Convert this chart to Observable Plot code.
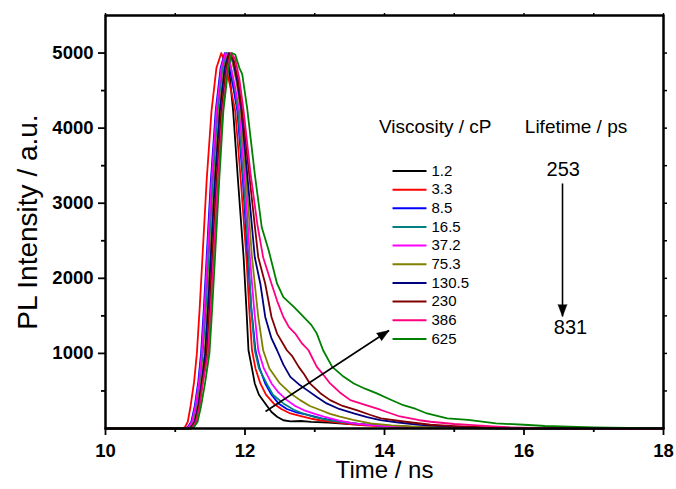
<!DOCTYPE html>
<html><head><meta charset="utf-8">
<script src="https://cdn.jsdelivr.net/npm/d3@7"></script>
<script src="https://cdn.jsdelivr.net/npm/@observablehq/plot@0.6"></script>
<style>body{margin:0;background:#fff} #chart svg{display:block}</style>
</head><body><div id="chart"></div>
<script>
// ---- data (time in ns, PL intensity in a.u.) ----
const viscosity = ["1.2","3.3","8.5","16.5","37.2","75.3","130.5","230","386","625"];
const colors = ["#000000","#ff0000","#0000ff","#008080","#ff00ff","#808000","#000080","#800000","#ff0080","#008000"];
const lifetimeLabels = ["253","831"];
const xMajor = [10,12,14,16,18];
const xMinor = [11,13,15,17];
const yMajor = [1000,2000,3000,4000,5000];
const yMinor = [500,1500,2500,3500,4500];
const xDomain = [10, 18];
const yDomain = [0, 5500];

const s1_2 = [[10,0],[11.16,0],[11.2,20],[11.25,90],[11.3,300],[11.35,620],[11.39,1000],[11.43,1600],[11.47,2281],[11.53,3300],[11.6,4230],[11.67,4800],[11.74,5000],[11.78,4700],[11.83,4230],[11.9,3300],[11.98,2281],[12.02,1600],[12.05,1042],[12.1,800],[12.14,600],[12.2,450],[12.29,334],[12.38,220],[12.46,157],[12.55,110],[12.65,95],[12.8,100],[12.95,88],[13.2,80],[13.5,60],[13.8,45],[14.1,32],[14.5,18],[15,8],[16,0],[18,0]];
const s3_3 = [[10,0],[11.1,0],[11.14,20],[11.18,90],[11.22,300],[11.27,620],[11.31,1000],[11.35,1600],[11.39,2281],[11.45,3300],[11.52,4230],[11.59,4800],[11.66,5000],[11.72,4850],[11.79,4550],[11.86,4230],[11.94,3300],[12.02,2281],[12.06,1600],[12.1,1042],[12.15,800],[12.22,600],[12.3,450],[12.41,334],[12.52,260],[12.65,200],[12.8,165],[12.95,130],[13.08,110],[13.25,90],[13.5,60],[13.75,40],[14.0,28],[14.5,12],[15,5],[16,0],[18,0]];
const s8_5 = [[10,0],[11.14,0],[11.18,20],[11.23,90],[11.28,300],[11.33,620],[11.37,1000],[11.41,1600],[11.45,2281],[11.51,3300],[11.58,4230],[11.65,4800],[11.71,5000],[11.77,4850],[11.83,4550],[11.89,4230],[11.97,3300],[12.04,2281],[12.09,1600],[12.15,1042],[12.21,800],[12.29,600],[12.38,450],[12.48,334],[12.6,260],[12.75,210],[12.9,180],[13.1,135],[13.35,95],[13.6,65],[13.9,42],[14.2,27],[14.6,14],[15.2,5],[16,0],[18,0]];
const s16_5 = [[10,0],[11.16,0],[11.2,20],[11.25,90],[11.3,300],[11.35,620],[11.39,1000],[11.44,1600],[11.48,2281],[11.54,3300],[11.61,4230],[11.68,4800],[11.74,5000],[11.79,4850],[11.85,4550],[11.9,4230],[11.98,3300],[12.05,2281],[12.09,1600],[12.14,1042],[12.2,800],[12.31,600],[12.4,450],[12.55,334],[12.7,250],[12.83,200],[13.0,150],[13.2,110],[13.45,80],[13.7,55],[14.0,35],[14.4,20],[15,7],[16,0],[18,0]];
const s37_2 = [[10,0],[11.15,0],[11.19,20],[11.24,90],[11.29,300],[11.34,620],[11.38,1000],[11.42,1600],[11.46,2281],[11.52,3300],[11.59,4230],[11.66,4800],[11.72,5000],[11.78,4880],[11.85,4580],[11.92,4230],[12.0,3300],[12.07,2281],[12.13,1600],[12.19,1042],[12.27,800],[12.38,600],[12.48,480],[12.6,378],[12.72,300],[12.84,246],[13.0,195],[13.13,157],[13.35,105],[13.56,68],[13.8,45],[14.1,30],[14.5,16],[15,7],[16,0],[18,0]];
const s75_3 = [[10,0],[11.18,0],[11.22,20],[11.27,90],[11.32,300],[11.37,620],[11.42,1000],[11.46,1600],[11.5,2281],[11.56,3300],[11.63,4230],[11.7,4800],[11.76,5000],[11.82,4880],[11.88,4600],[11.94,4230],[12.02,3300],[12.1,2281],[12.19,1485],[12.26,1042],[12.35,800],[12.5,600],[12.65,470],[12.79,378],[12.93,300],[13.08,246],[13.22,195],[13.36,157],[13.55,115],[13.8,68],[14.1,42],[14.5,22],[15,10],[15.6,3],[16.2,0],[18,0]];
const s130_5 = [[10,0],[11.19,0],[11.23,20],[11.28,90],[11.33,300],[11.38,620],[11.43,1000],[11.47,1600],[11.51,2281],[11.57,3300],[11.64,4230],[11.71,4800],[11.77,5000],[11.83,4900],[11.89,4620],[11.95,4230],[12.04,3300],[12.14,2281],[12.22,1928],[12.29,1485],[12.38,1200],[12.46,1042],[12.55,850],[12.65,688],[12.77,590],[12.89,511],[13.03,420],[13.17,334],[13.35,260],[13.56,200],[13.75,150],[13.94,111],[14.2,80],[14.5,48],[14.9,28],[15.4,12],[16,4],[16.6,0],[18,0]];
const s230 = [[10,0],[11.2,0],[11.24,20],[11.29,90],[11.34,300],[11.39,620],[11.45,1000],[11.49,1600],[11.53,2281],[11.59,3300],[11.66,4230],[11.73,4800],[11.78,5000],[11.84,4900],[11.9,4650],[11.96,4230],[12.07,3300],[12.19,2281],[12.29,1928],[12.38,1485],[12.46,1264],[12.6,1042],[12.68,960],[12.77,821],[12.85,720],[12.93,600],[13.08,470],[13.22,378],[13.4,300],[13.6,246],[13.8,180],[13.95,135],[14.3,90],[14.66,50],[15.0,32],[15.5,15],[16.2,5],[17,0],[18,0]];
const s386 = [[10,0],[11.21,0],[11.25,20],[11.3,90],[11.35,300],[11.4,620],[11.47,1000],[11.51,1600],[11.55,2281],[11.61,3300],[11.68,4230],[11.75,4800],[11.8,5000],[11.86,4920],[11.92,4650],[11.98,4230],[12.08,3390],[12.18,2700],[12.26,2281],[12.38,1928],[12.46,1700],[12.55,1485],[12.63,1350],[12.72,1264],[12.82,1130],[12.91,1042],[13.03,821],[13.12,720],[13.22,600],[13.36,480],[13.51,378],[13.7,320],[13.94,250],[14.22,160],[14.5,110],[14.66,90],[15.0,60],[15.27,46],[15.8,16],[16.5,3],[17.2,0],[18,0]];
const s625 = [[10,0],[11.23,0],[11.27,20],[11.32,90],[11.37,300],[11.43,620],[11.49,1000],[11.53,1600],[11.57,2281],[11.63,3300],[11.69,4230],[11.76,4800],[11.81,5000],[11.86,4980],[11.92,4800],[11.96,4720],[12.03,4274],[12.14,3390],[12.24,2680],[12.34,2370],[12.46,1928],[12.55,1750],[12.7,1620],[12.84,1485],[12.95,1380],[13.03,1264],[13.12,1042],[13.25,821],[13.4,700],[13.56,600],[13.72,530],[13.89,467],[14.05,400],[14.27,310],[14.45,260],[14.61,200],[14.9,135],[15.2,114],[15.6,68],[16.0,50],[16.3,33],[17.0,16],[17.5,8],[18,3]];
const seriesPoints = [s1_2,s3_3,s8_5,s16_5,s37_2,s75_3,s130_5,s230,s386,s625];

// ---- annotation layout (data units) ----
const legX1 = 14.115, legX2 = 14.602, legTextX = 14.674, legY0 = 3429, legDy = 248.4;
const headerY = 4022, viscHeaderX = 14.727, lifeHeaderX = 16.746;
const lifeX = [16.562, 16.667], lifeY = [3449, 1345];
const vArrow = {x: 16.552, y1: 3263, y2: 1492};
const dArrow = {x1: 12.294, y1: 226, x2: 14.065, y2: 1305};

const rows = seriesPoints.flatMap((pts, k) => pts.map(([t, I]) => ({t, I, name: viscosity[k]})));
const legendRows = viscosity.map((v, i) => ({v, y: legY0 - i * legDy}));
const arrowRows = [
  {x1: vArrow.x, y1: vArrow.y1, x2: vArrow.x, y2: vArrow.y2, rot: 180},
  {x1: dArrow.x1, y1: dArrow.y1, x2: dArrow.x2, y2: dArrow.y2, rot: 56.7}
];

const chart = Plot.plot({
  width: 676, height: 489,
  marginLeft: 105, marginRight: 13, marginTop: 15, marginBottom: 61,
  style: {fontFamily: "'Liberation Sans', Arial, sans-serif", background: "white", color: "black", overflow: "visible"},
  x: {domain: xDomain},
  y: {domain: yDomain},
  color: {type: "ordinal", domain: viscosity, range: colors},
  marks: [
    // annotations and texts first
    Plot.text(["Time / ns"], {frameAnchor: "bottom", dy: 42, lineAnchor: "middle", textAnchor: "middle", text: d => d, fontSize: 24}),
    Plot.text(["PL Intensity / a.u."], {frameAnchor: "left", dx: -77, rotate: -90, lineAnchor: "middle", textAnchor: "middle", text: d => d, fontSize: 28}),
    Plot.text(["Viscosity / cP"], {x: viscHeaderX, y: headerY, text: d => d, fontSize: 19}),
    Plot.text(["Lifetime / ps"], {x: lifeHeaderX, y: headerY, text: d => d, fontSize: 19}),
    Plot.link(legendRows, {x1: legX1, x2: legX2, y1: "y", y2: "y", stroke: "v", strokeWidth: 2}),
    Plot.text(legendRows, {x: legTextX, y: "y", text: "v", textAnchor: "start", fontSize: 15}),
    Plot.text(lifetimeLabels, {x: (d, i) => lifeX[i], y: (d, i) => lifeY[i], text: d => d, fontSize: 20}),
    // decay curves
    Plot.line(rows, {x: "t", y: "I", z: "name", stroke: "name", strokeWidth: 1.8}),
    // arrows
    Plot.link(arrowRows, {x1: "x1", y1: "y1", x2: "x2", y2: "y2", stroke: "black", strokeWidth: 1.6}),
    Plot.vector(arrowRows, {x: "x2", y: "y2", rotate: "rot", length: 12, r: 4.5, shape: "spike", anchor: "end", fill: "black", stroke: "black", strokeWidth: 0.5}),
    // axes
    Plot.axisY({ticks: yMajor, tickSize: 7, tickPadding: 5, fontSize: 18.5, fontWeight: "bold", tickFormat: d => String(d), label: null, stroke: "black", strokeWidth: 1.8}),
    Plot.axisY({ticks: yMinor, tickSize: 4, text: null, label: null, stroke: "black", strokeWidth: 1.8}),
    Plot.axisY({anchor: "right", ticks: [...yMajor, ...yMinor], tickSize: 3, text: null, label: null, stroke: "black", strokeWidth: 1.5}),
    Plot.axisX({anchor: "top", ticks: [...xMajor, ...xMinor], tickSize: 3, text: null, label: null, stroke: "black", strokeWidth: 1.5}),
    Plot.axisX({ticks: xMinor, tickSize: 4, text: null, label: null, stroke: "black", strokeWidth: 1.8}),
    Plot.axisX({ticks: xMajor, tickSize: 7, tickPadding: 8, fontSize: 18.5, fontWeight: "bold", tickFormat: d => String(d), label: null, stroke: "black", strokeWidth: 1.8}),
    // frame last
    Plot.ruleX(xDomain, {stroke: "black", strokeWidth: 2}),
    Plot.ruleY(yDomain, {stroke: "black", strokeWidth: 2}),
    Plot.frame({stroke: "black", strokeWidth: 2})
  ]
});
document.getElementById("chart").appendChild(chart);
</script>
</body></html>
